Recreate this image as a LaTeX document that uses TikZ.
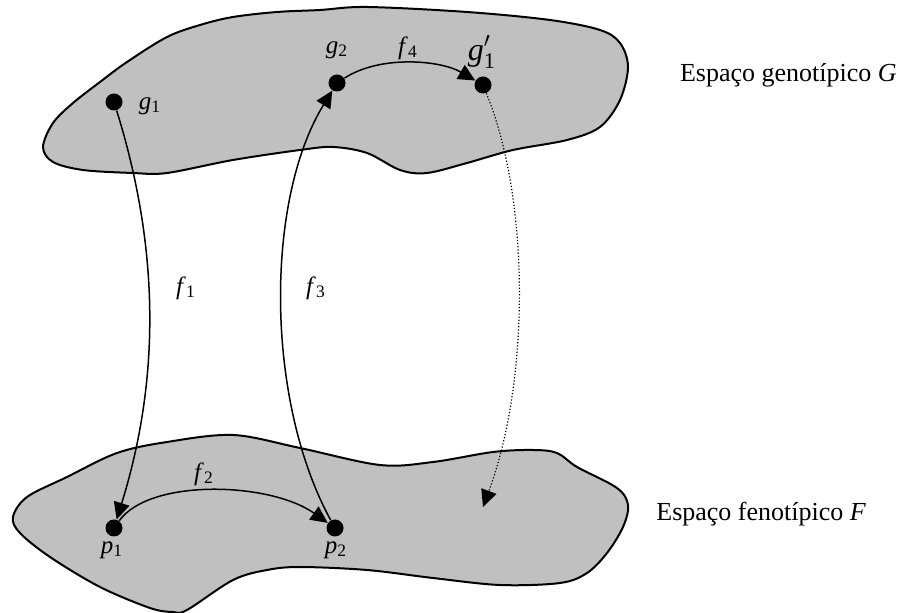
\documentclass[tikz,border=0pt]{standalone}
\usepackage{amsmath}
\usepackage{fontspec}
\setmainfont{Liberation Serif}
\usetikzlibrary{arrows.meta}
\definecolor{mGray}{HTML}{C0C0C0}

\begin{document}
\begin{tikzpicture}[x=0.5pt, y=-0.5pt,
    blob/.style={draw=black, line width=1pt, fill=mGray},
    dot/.style={circle, fill=black, inner sep=0pt, minimum size=8.5pt},
    arr/.style={line width=0.75pt, -{Triangle[length=8.5pt, width=8pt]}},
    lbl/.style={font=\fontsize{12.5}{14}\selectfont, inner sep=0pt},
    space/.style={font=\fontsize{13}{15}\selectfont, inner sep=0pt}]
  \useasboundingbox (0,0) rectangle (899,613);
  % genotype space
  \draw[blob] plot[smooth cycle, tension=0.55] coordinates {
    (43,147) (53,123) (73,103) (100,82) (127,62) (167,37) (200,25)
    (233,17) (277,12) (320,10) (367,7) (467,12) (550,20) (600,30)
    (620,43) (628,67) (620,100) (600,127) (567,140) (513,150)
    (467,163) (427,173) (400,170) (367,153) (333,147) (300,150)
    (233,160) (167,173) (133,173) (83,170) (53,162)};
  % phenotype space
  \draw[blob] plot[smooth cycle, tension=0.55] coordinates {
    (13,517) (27,497) (67,477) (117,453) (167,442) (233,435) (300,448)
    (380,465) (433,462) (493,452) (533,450) (557,453) (577,467)
    (617,488) (628,505) (623,527) (607,553) (587,573) (560,583)
    (500,585) (433,578) (367,570) (300,567) (267,570) (233,580)
    (187,610) (173,612) (150,608) (100,587) (50,557) (20,533)};

  \node[dot] (g1) at (114,102) {};
  \node[dot] (g2) at (337,83) {};
  \node[dot] (g1p) at (483,85) {};
  \node[dot] (p1) at (114,528) {};
  \node[dot] (p2) at (335,528) {};
  \coordinate (fend) at (483,507);

  \draw[arr] (g1) .. controls (160,250) and (160,380) .. (p1);
  \draw[arr] (p1) .. controls (150,478) and (270,482) .. (p2);
  \draw[arr] (p2) .. controls (265,400) and (265,200) .. (g2);
  \draw[arr] (g2) .. controls (380,55) and (440,60) .. (g1p);
  \draw[arr, line width=0.6pt, densely dotted] (g1p) .. controls (530,200) and (530,380) .. (fend);

  \node[lbl] (lg1) at (150,106) {\textit{g}\textsubscript{1}};
  \node[lbl] (lg2) at (337,50) {\textit{g}\textsubscript{2}};
  \node[lbl] (lf4) at (408,48) {\textit{f}\textsubscript{4}};
  \node[lbl, font=\fontsize{16}{18}\selectfont] (lg1p) at (482,52) {\textit{g}$'_{\text{1}}$};
  \node[lbl] (lp1) at (112,550) {\textit{p}\textsubscript{1}};
  \node[lbl] (lp2) at (336,550) {\textit{p}\textsubscript{2}};
  \node[lbl] (lf2) at (204,474) {\textit{f}\textsubscript{2}};
  \node[lbl] (lf1) at (186,288) {\textit{f}\textsubscript{1}};
  \node[lbl] (lf3) at (316,288) {\textit{f}\textsubscript{3}};

  \node[space, anchor=east] (gen) at (897,75) {Espaço genotípico \textit{G}};
  \node[space, anchor=west] (fen) at (656,514) {Espaço fenotípico \textit{F}};
\end{tikzpicture}
\end{document}
